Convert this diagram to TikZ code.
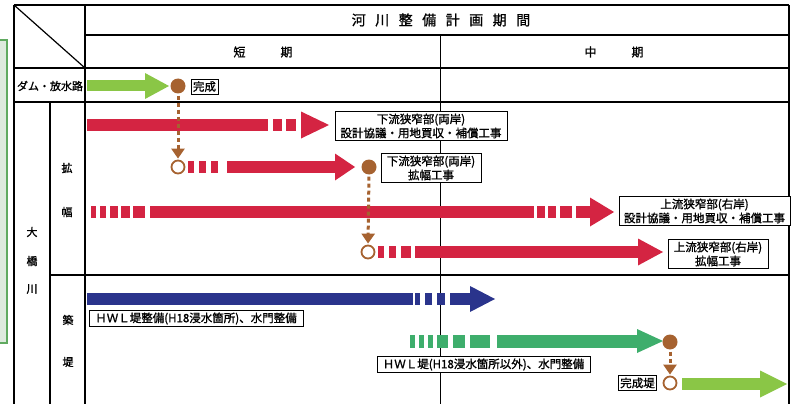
\documentclass[tikz,border=0pt]{standalone}
\usepackage{fontspec}
\setmainfont{Noto Sans CJK JP}[AutoFakeBold=1.2]
\usetikzlibrary{arrows.meta}
\definecolor{redA}{RGB}{212,36,66}
\definecolor{blueA}{RGB}{42,52,140}
\definecolor{greenL}{RGB}{138,198,70}
\definecolor{greenM}{RGB}{62,174,108}
\definecolor{brownC}{RGB}{166,98,48}
\definecolor{boxG}{RGB}{222,234,222}
\definecolor{lineG}{RGB}{96,170,96}
% fat arrow: color, y, body start, head base, tip, body half, head half
\newcommand\fatarw[7]{%
  \fill[#1] (#3,#2-#6) rectangle (#4+0.5,#2+#6);
  \fill[#1] (#4,#2-#7) -- (#5,#2) -- (#4,#2+#7) -- cycle;}
\newcommand\dashrow[4]{% color, y, half, list a/b
  \foreach \a/\b in {#4} {\fill[#1] (\a,#2-#3) rectangle (\b,#2+#3);}}
\tikzset{
  lbl/.style={draw=black, line width=0.8pt, fill=white, inner xsep=2pt, inner ysep=2.2pt,
    align=center, font=\fontsize{11.5}{14}\selectfont\bfseries},
  hdr/.style={font=\fontsize{11}{13}\selectfont\bfseries, inner sep=0pt},
  tline/.style={line width=1.2pt, black},
  thick line/.style={line width=2pt, black},
  dot/.style={circle, fill=brownC, minimum size=15pt, inner sep=0pt},
  ring/.style={circle, draw=brownC, line width=1.8pt, fill=white, minimum size=13pt, inner sep=0pt},
  brdash/.style={brownC, line width=3pt, dash pattern=on 4pt off 3pt,
    -{Triangle[width=13pt,length=10pt]}, shorten <=2pt, shorten >=1pt}
}
\begin{document}
\begin{tikzpicture}[x=1pt,y=-1pt]
\useasboundingbox (0,0) rectangle (793,404);
% clipped neighbour box at left
\begin{scope}
\clip (0,0) rectangle (793,404);
\filldraw[fill=boxG, draw=lineG, line width=1.2pt] (-10,40) rectangle (7,343);
\end{scope}
% table lines
\draw[tline] (14,5) -- (789,5);
\draw[tline] (85,35) -- (789,35);
\draw[thick line] (14,68) -- (789,68);
\draw[tline] (14,102) -- (789,102);
\draw[tline] (50,275) -- (789,275);
\draw[tline] (14,5) -- (14,404);
\draw[thick line] (85,5) -- (85,404);
\draw[tline] (50,102) -- (50,404);
\draw[line width=1pt] (440,35) -- (440,404);
\draw[tline] (789,5) -- (789,404);
\draw[line width=1.2pt] (14,5) -- (85,68);
% header texts
\node[inner sep=0pt, font=\fontsize{14}{14}\selectfont\bfseries] (title) at (441,20)
  {河\kern9.5pt 川\kern9.5pt 整\kern9.5pt 備\kern9.5pt 計\kern9.5pt 画\kern9.5pt 期\kern9.5pt 間};
\node[hdr, font=\fontsize{12}{12}\selectfont\bfseries] (short) at (263,52) {短\kern35pt 期};
\node[hdr, font=\fontsize{12}{12}\selectfont\bfseries] (mid) at (614,52) {中\kern35pt 期};
\node[hdr] (dam) at (50,86) {ダム・放水路};
\node[hdr] (o1) at (32,232) {大};
\node[hdr] (o2) at (32,261) {橋};
\node[hdr] (o3) at (32,289) {川};
\node[hdr] (k1) at (67,168) {拡};
\node[hdr] (k2) at (67,212) {幅};
\node[hdr] (t1) at (68,320) {築};
\node[hdr] (t2) at (68,362) {堤};
% arrows
\fatarw{greenL}{86}{87}{145}{169}{5.5}{13}
\fatarw{redA}{125}{87}{261}{261}{6}{0}
\dashrow{redA}{125}{6}{262/268,273/282,286/296}
\fatarw{redA}{125}{301}{301}{329}{0}{13.5}
\dashrow{redA}{167}{6}{188/194,199/206,211/218}
\fatarw{redA}{167}{227}{335}{355}{6}{13.5}
\dashrow{redA}{212}{6}{91/96,100/106,110/118,121/130,133/145}
\fatarw{redA}{212}{150}{533}{533}{6}{0}
\dashrow{redA}{212}{6}{537/545,548/556,560/572}
\fatarw{redA}{212}{576}{590}{614}{6}{14.5}
\dashrow{redA}{252}{6}{378/384,389/396,401/411}
\fatarw{redA}{252}{415}{638}{663}{6}{13.5}
\fatarw{blueA}{299}{87}{412}{412}{6}{0}
\dashrow{blueA}{299}{6}{415/420,425/432,437/445}
\fatarw{blueA}{299}{450}{470}{495}{6}{13}
\dashrow{greenM}{341}{6.5}{410/415,419/424,428/433,437/448,453/465,470/490}
\fatarw{greenM}{341}{497}{637}{663}{6.5}{12}
\fatarw{greenL}{384}{682}{760}{787}{6}{13.5}
% milestones
\node[dot] (c1) at (178,86) {};
\node[ring] (h1) at (178,167) {};
\node[dot] (c2) at (369,167) {};
\node[ring] (h2) at (368,252) {};
\node[dot] (c3) at (670,342) {};
\node[ring] (h3) at (670,383) {};
\draw[brdash] (c1.south) -- (h1.north);
\draw[brdash] (c2.south) -- (h2.north);
\draw[brdash] (c3.south) -- (h3.north);
% labels
\node[lbl] (done1) at (204.5,86.5) {完成};
\node[lbl, minimum width=172pt] (bA) at (421,126) {下流狭窄部(両岸)\\設計協議・用地買収・補償工事};
\node[lbl, minimum width=100pt] (bB) at (431,168) {下流狭窄部(両岸)\\拡幅工事};
\node[lbl, minimum width=171pt] (bC) at (704.5,211) {上流狭窄部(右岸)\\設計協議・用地買収・補償工事};
\node[lbl, minimum width=100pt] (bD) at (718,254) {上流狭窄部(右岸)\\拡幅工事};
\node[lbl, minimum width=214pt] (bE) at (196,318.5) {ＨＷＬ堤整備(H18浸水箇所)、水門整備};
\node[lbl, minimum width=213pt] (bF) at (483.5,364.5) {ＨＷＬ堤(H18浸水箇所以外)、水門整備};
\node[lbl] (done2) at (637.5,383) {完成堤};
\end{tikzpicture}
\end{document}
